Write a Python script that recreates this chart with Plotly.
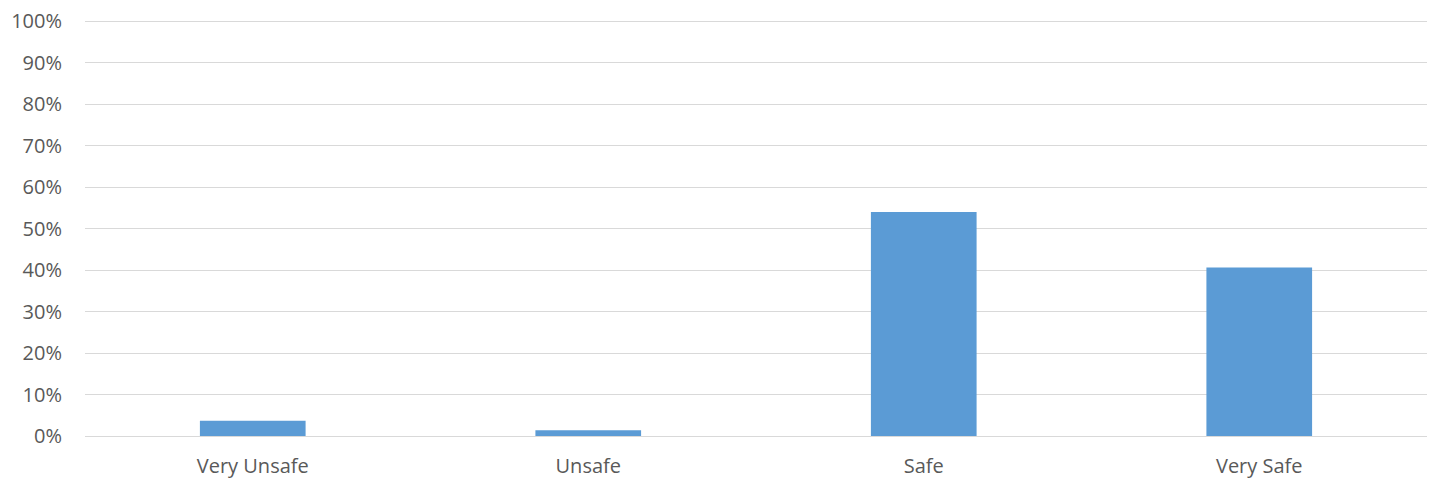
import plotly.graph_objects as go

categories = ["Very Unsafe", "Unsafe", "Safe", "Very Safe"]
values = [3.7, 1.4, 54.0, 40.6]
y_ticks = list(range(0, 101, 10))
y_tick_labels = [f"{t}%" for t in y_ticks]

fig = go.Figure(go.Bar(x=categories, y=values, marker_color="#5B9BD5",
                       marker_line_width=0, hoverinfo="x+y"))

fig.update_layout(
    width=1432, height=481,
    margin=dict(l=85, r=5, t=19, b=45, autoexpand=False),
    paper_bgcolor="white", plot_bgcolor="white",
    bargap=0.685,
    showlegend=False,
    font=dict(family="Open Sans", size=20, color="#595959"),
)
fig.update_yaxes(range=[0, 100.5], tickvals=y_ticks, ticktext=y_tick_labels,
                 showgrid=True, gridcolor="#D9D9D9", gridwidth=1,
                 zeroline=False, showline=False, ticks="", automargin=False,
                 ticklabelstandoff=22)
fig.update_xaxes(showline=True, linecolor="#D9D9D9", linewidth=1, ticks="",
                 automargin=False, ticklabelstandoff=12)

fig.write_html("out.html", config={"displayModeBar": False},
               post_script="document.body.style.margin='0';document.body.style.overflow='hidden';")
